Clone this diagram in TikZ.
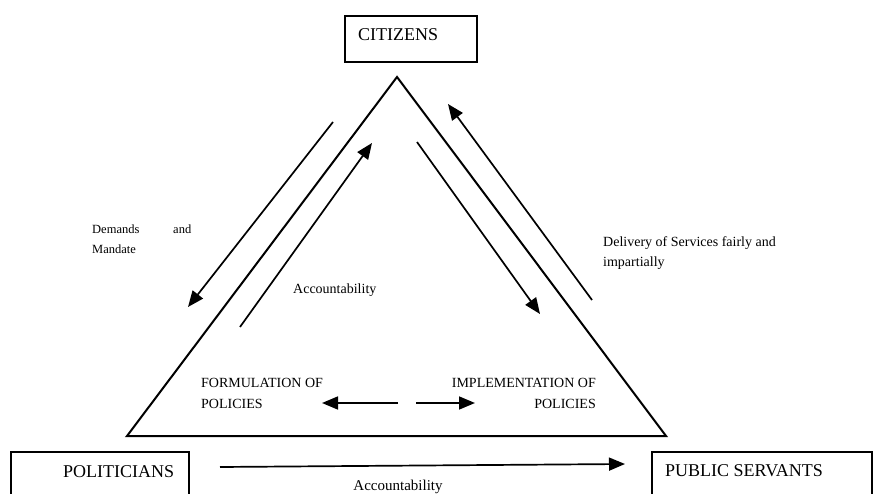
\documentclass[tikz,border=0pt]{standalone}
\usepackage{fontspec}
\setmainfont{Liberation Serif}
\usetikzlibrary{arrows.meta}
\begin{document}
\begin{tikzpicture}[x=1pt,y=-1pt,
  box/.style={draw,line width=1.8pt,inner sep=0pt,anchor=north west},
  tri/.style={draw,line width=2pt,line join=miter},
  conn/.style={line width=1.7pt,-{Triangle[length=16pt,width=13pt]}},
  lbl/.style={inner sep=0pt,anchor=base west},
  lble/.style={inner sep=0pt,anchor=base east},
  big/.style={font=\fontsize{18}{20}\selectfont},
  mid/.style={font=\fontsize{14}{20}\selectfont},
  small/.style={font=\fontsize{12.5}{20}\selectfont}]
\useasboundingbox (0,0) rectangle (873,494);
% boxes
\node[box,minimum width=132pt,minimum height=46pt] (cit) at (344,15) {};
\node[box,minimum width=178pt,minimum height=60pt] (pol) at (10,451) {};
\node[box,minimum width=220pt,minimum height=60pt] (pub) at (651,451) {};
\node[lbl,big] (citt) at (358,41) {CITIZENS};
\node[lbl,big] (polt) at (63,477) {POLITICIANS};
\node[lbl,big] (pubt) at (665,476) {PUBLIC SERVANTS};
% triangle
\coordinate (apex) at (397,77);
\coordinate (bl) at (127,436);
\coordinate (br) at (666,436);
\draw[tri] (apex) -- (bl) -- (br) -- cycle;
% arrows along the left side
\coordinate (d1) at (333,122); \coordinate (d2) at (188,307);
\coordinate (a1) at (240,327); \coordinate (a2) at (372,143);
\draw[conn] (d1) -- (d2);
\draw[conn] (a1) -- (a2);
% arrows along the right side
\coordinate (i1) at (417,142); \coordinate (i2) at (540,314);
\coordinate (s1) at (592,300); \coordinate (s2) at (448,104);
\draw[conn] (i1) -- (i2);
\draw[conn] (s1) -- (s2);
% inner horizontal arrows
\coordinate (h1) at (398,403); \coordinate (h2) at (322,403);
\coordinate (h3) at (416,403); \coordinate (h4) at (475,403);
\draw[conn] (h1) -- (h2);
\draw[conn] (h3) -- (h4);
% bottom arrow
\coordinate (b1) at (220,467); \coordinate (b2) at (625,464);
\draw[conn] (b1) -- (b2);
% labels
\node[lbl,small] (dem) at (92,234) {Demands};
\node[lbl,small] (and) at (173,234) {and};
\node[lbl,small] (man) at (92,254) {Mandate};
\node[lbl,mid] (acc) at (293,294) {Accountability};
\node[lbl,mid] (del1) at (603,247) {Delivery of Services fairly and};
\node[lbl,mid] (del2) at (603,267) {impartially};
\node[lbl,mid] (form1) at (201,388) {FORMULATION OF};
\node[lbl,mid] (form2) at (201,408) {POLICIES};
\node[lble,mid] (impl1) at (596,388) {IMPLEMENTATION OF};
\node[lble,mid] (impl2) at (596,408) {POLICIES};
\node[inner sep=0pt,anchor=base,font=\fontsize{15}{18}\selectfont] (accb) at (398,490) {Accountability};
\end{tikzpicture}
\end{document}
